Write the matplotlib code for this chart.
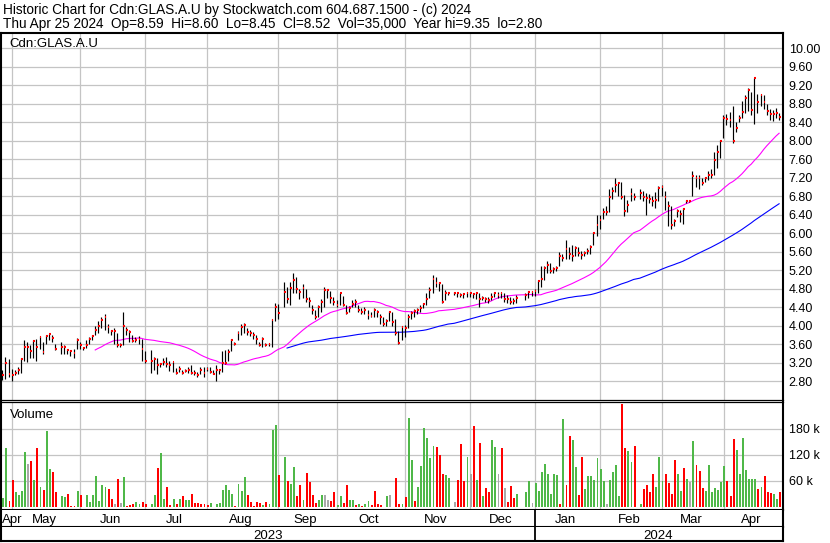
import numpy as np
import pandas as pd
import matplotlib
matplotlib.use("Agg")
import matplotlib.pyplot as plt

nan = np.nan

# one slot per trading day, Apr 26 2023 .. Apr 25 2024 (nan = no trade)
months = ["Apr", "May", "Jun", "Jul", "Aug", "Sep", "Oct", "Nov", "Dec",
          "Jan", "Feb", "Mar", "Apr"]
month_len = [3, 22, 21, 20, 23, 19, 22, 21, 21, 21, 20, 20, 19]
years = ["2023", "2024"]
year_start_month = [0, 9]

close = [
    2.93, 3.20, 2.96,
    2.93, 2.99, 3.05, 3.29, 3.55, 3.55, 3.45, 3.67, 3.55, 3.76, 3.43, 3.77, 3.82, 3.73, 3.50, nan, 3.54, 3.55, 3.47, 3.46, 3.42, 3.70,
    3.58, 3.51, 3.59, 3.71, 3.77, 3.91, 4.00, 4.13, 4.18, 3.98, 3.88, 3.88, 3.59, 3.59, 4.00, 3.92, 3.86, 3.67, 3.69, 3.72, 3.50,
    3.23, nan, 3.24, 3.29, 3.15, 3.17, 3.22, 3.18, 3.16, 3.21, 2.99, 3.07, 2.98, 3.03, 3.04, 2.99, 2.98, 2.94, 3.04, 2.98,
    3.07, 3.00, 2.96, 3.05, 3.04, 3.19, 3.20, 3.43, 3.70, 3.61, 3.85, 3.98, 4.02, 3.86, 3.85, 3.80, 3.71, 3.59, 3.72, 3.59, 3.60, 4.13, 4.41,
    4.28, nan, 4.74, 4.58, 4.82, 5.00, 4.79, 4.74, 4.81, 4.58, 4.53, 4.34, 4.20, 4.40, 4.52, 4.77, 4.77, 4.61, 4.52,
    4.46, 4.70, 4.45, 4.28, 4.38, 4.48, 4.52, 4.34, 4.30, 4.34, 4.23, 4.21, 4.35, 4.29, 4.18, 4.05, 4.10, 4.30, 4.09, 3.85, 3.63, 3.97,
    3.95, 4.20, 4.27, 4.32, 4.34, 4.39, 4.47, 4.58, 4.77, 5.02, 4.92, 4.92, 4.52, 4.70, 4.71, nan, 4.71, 4.70, 4.66, 4.68, 4.70,
    4.70, 4.68, 4.71, 4.57, 4.61, 4.57, 4.55, 4.62, 4.71, 4.66, 4.71, 4.59, 4.57, 4.52, 4.53, 4.61, nan, nan, 4.66, 4.73, 4.73,
    4.76, 4.96, 5.01, 5.24, 5.32, 5.19, 5.22, 5.25, 5.50, 5.47, 5.66, 5.55, 5.52, 5.68, 5.57, 5.53, 5.57, 5.61, 5.70, 6.00, 6.18,
    6.29, 6.46, 6.46, 6.79, 6.92, 7.05, 7.08, 6.79, 6.48, 6.61, 6.86, 6.79, nan, 6.87, 6.79, 6.77, 6.74, 6.70, 6.72, 6.97,
    7.00, 6.79, 6.60, 6.17, 6.26, 6.48, 6.41, 6.52, 6.70, 6.70, 7.23, 7.20, 7.20, 7.09, 7.20, 7.25, 7.27, 7.59, 7.75, 7.99,
    8.49, 8.47, 8.46, 7.99, 8.28, 8.49, 8.62, 8.92, 9.10, 8.66, 9.35, 8.84, 9.00, 8.84, 8.64, 8.57, 8.59, 8.60, 8.52,
]

high = [
    3.05, 3.32, 3.29,
    3.07, 3.04, 3.12, 3.30, 3.70, 3.66, 3.58, 3.70, 3.72, 3.78, 3.66, 3.80, 3.82, 3.80, 3.60, nan, 3.65, 3.58, 3.50, 3.48, 3.50, 3.73,
    3.65, 3.55, 3.70, 3.75, 3.80, 4.00, 4.10, 4.20, 4.25, 4.05, 3.92, 3.95, 3.85, 3.62, 4.30, 3.98, 3.90, 3.80, 3.76, 3.78, 3.72,
    3.45, nan, 3.48, 3.33, 3.30, 3.20, 3.31, 3.33, 3.25, 3.22, 3.08, 3.13, 3.05, 3.07, 3.10, 3.15, 3.05, 3.00, 3.12, 3.10,
    3.10, 3.12, 3.05, 3.15, 3.06, 3.45, 3.47, 3.50, 3.72, 3.66, 3.88, 4.05, 4.06, 3.95, 3.90, 3.86, 3.80, 3.65, 3.75, 3.62, 3.62, 4.15, 4.50,
    4.48, nan, 4.95, 4.85, 4.95, 5.15, 5.05, 4.80, 4.90, 4.80, 4.62, 4.45, 4.35, 4.45, 4.58, 4.85, 4.80, 4.75, 4.62,
    4.55, 4.72, 4.65, 4.45, 4.42, 4.55, 4.58, 4.45, 4.38, 4.40, 4.35, 4.30, 4.38, 4.34, 4.25, 4.20, 4.15, 4.32, 4.30, 4.15, 3.88, 4.00,
    4.02, 4.25, 4.32, 4.36, 4.38, 4.45, 4.50, 4.72, 4.85, 5.10, 5.05, 4.95, 4.90, 4.78, 4.73, nan, 4.73, 4.72, 4.72, 4.72, 4.73,
    4.73, 4.72, 4.73, 4.71, 4.65, 4.62, 4.62, 4.72, 4.74, 4.73, 4.73, 4.70, 4.66, 4.62, 4.60, 4.66, nan, nan, 4.70, 4.76, 4.76,
    4.80, 5.00, 5.30, 5.30, 5.40, 5.35, 5.28, 5.30, 5.60, 5.55, 5.85, 5.70, 5.75, 5.72, 5.70, 5.62, 5.62, 5.68, 5.75, 6.02, 6.40,
    6.40, 6.55, 6.60, 6.95, 7.00, 7.20, 7.12, 7.10, 6.82, 6.72, 6.98, 6.88, nan, 6.95, 6.92, 6.88, 6.85, 6.80, 6.90, 7.02,
    7.05, 6.92, 6.70, 6.60, 6.30, 6.52, 6.50, 6.55, 6.72, 6.72, 7.35, 7.25, 7.25, 7.20, 7.22, 7.35, 7.40, 7.75, 7.90, 8.02,
    8.55, 8.58, 8.62, 8.75, 8.40, 8.55, 8.85, 9.00, 9.15, 9.05, 9.35, 9.02, 9.02, 8.98, 8.80, 8.68, 8.66, 8.72, 8.60,
]

low = [
    2.82, 2.84, 2.90,
    2.80, 2.94, 2.95, 2.97, 3.23, 3.22, 3.30, 3.30, 3.25, 3.50, 3.40, 3.60, 3.70, 3.65, 3.48, nan, 3.40, 3.40, 3.40, 3.35, 3.30, 3.50,
    3.50, 3.48, 3.52, 3.60, 3.70, 3.80, 3.85, 3.95, 3.90, 3.85, 3.80, 3.60, 3.55, 3.55, 3.58, 3.80, 3.66, 3.64, 3.66, 3.60, 3.25,
    3.20, nan, 2.98, 3.05, 2.95, 3.10, 3.15, 3.10, 3.02, 3.00, 2.96, 3.00, 2.95, 3.00, 2.98, 2.95, 2.93, 2.90, 2.95, 2.90,
    3.02, 2.98, 2.95, 2.80, 2.95, 3.00, 3.18, 3.25, 3.45, 3.58, 3.70, 3.80, 3.85, 3.80, 3.78, 3.72, 3.60, 3.57, 3.55, 3.56, 3.56, 3.55, 4.10,
    4.15, nan, 4.40, 4.50, 4.45, 4.70, 4.70, 4.58, 4.60, 4.52, 4.40, 4.25, 4.15, 4.20, 4.30, 4.40, 4.60, 4.50, 4.45,
    4.40, 4.45, 4.42, 4.25, 4.30, 4.40, 4.40, 4.30, 4.25, 4.25, 4.15, 4.18, 4.20, 4.20, 4.05, 4.00, 4.00, 4.10, 4.00, 3.80, 3.60, 3.70,
    3.75, 3.95, 4.15, 4.20, 4.25, 4.30, 4.38, 4.45, 4.60, 4.70, 4.85, 4.75, 4.50, 4.55, 4.66, nan, 4.66, 4.62, 4.62, 4.60, 4.62,
    4.62, 4.60, 4.58, 4.40, 4.55, 4.52, 4.50, 4.55, 4.62, 4.60, 4.60, 4.52, 4.50, 4.48, 4.48, 4.50, nan, nan, 4.55, 4.60, 4.65,
    4.65, 4.70, 4.85, 5.00, 5.15, 5.15, 5.15, 5.18, 5.30, 5.40, 5.45, 5.45, 5.40, 5.50, 5.50, 5.45, 5.50, 5.55, 5.55, 5.75, 5.95,
    6.10, 6.30, 6.40, 6.45, 6.75, 6.90, 6.80, 6.75, 6.38, 6.45, 6.70, 6.72, nan, 6.75, 6.70, 6.40, 6.65, 6.60, 6.55, 6.70,
    6.80, 6.50, 6.15, 6.10, 6.15, 6.35, 6.25, 6.20, 6.65, 6.68, 6.80, 7.00, 6.95, 7.05, 7.10, 7.15, 7.20, 7.25, 7.42, 7.62,
    8.05, 8.35, 8.30, 7.95, 8.20, 8.40, 8.50, 8.60, 8.65, 8.55, 8.36, 8.60, 8.75, 8.68, 8.55, 8.45, 8.42, 8.50, 8.45,
]

# volume in thousands of shares
volume_k = [
    20, 135, 13.5,
    62, 34, 27, 36, 127, 98, 105, 62, 135, 45, 40, 175, 87, 81, 35, 0, 26, 22, 31, 2, 2, 37,
    28, 1, 27, 11, 27, 72, 13.5, 51, 47, 42, 19.5, 7.5, 64, 10, 69, 2, 4.5, 6, 12, 7.5, 12,
    8, 0, 6, 28, 90, 124, 19.5, 46, 4.5, 19.5, 8, 19.5, 25, 17, 17, 31, 10, 10, 7.5, 8,
    4.5, 10, 1, 7.5, 9, 40, 50, 40, 31, 2, 52, 36, 69, 27, 11, 2, 12, 10, 4.5, 12, 7.5, 177, 190,
    73, 0, 116, 60, 53, 92, 25, 51, 16, 79, 57, 27, 10, 15, 28, 28, 17, 13.5, 34,
    4.5, 26, 10, 51, 15, 17, 4.5, 8, 2, 8, 13, 4.5, 37, 7.5, 5, 1, 25, 28, 1, 66, 8, 6,
    24, 206, 109, 13, 45, 94, 182, 160, 112, 141, 139, 120, 76, 73, 66, 0, 11, 62, 145, 60, 116,
    76, 186, 62, 147, 26, 43, 34, 154, 139, 77, 136, 43, 12, 49, 21, 31, 0, 0, 34, 60, 10,
    55, 37, 80, 100, 75, 31, 75, 73, 6, 203, 51, 164, 154, 92, 28, 116, 42, 72, 72, 62, 112,
    88, 60, 6, 62, 80, 96, 26, 238, 136, 130, 103, 141, 0, 6, 42, 51, 34, 75, 45, 116,
    60, 77, 55, 31, 109, 76, 37, 90, 64, 58, 152, 96, 82, 43, 36, 97, 34, 43, 40, 57,
    94, 60, 26, 157, 132, 76, 158, 86, 64, 64, 64, 42, 47, 71, 34, 32, 31, 19.5, 35,
]

# g = up day, r = down day, n = unchanged, - = no trade
volume_dir = (
    "ggr"
    "rggggnrgrgrggrr-ggrrrg"
    "rrgggggggrrnrngrrrggr"
    "r-ggrggrrgrgrggrrrrr"
    "rgrggggggrgggrrrrrgrggg"
    "r-grggrrgrrrrggnnrr"
    "ggrrggrgrggrrrrrgnrrrg"
    "rggrggggggrrrgg-nrrrg"
    "nrgrgrrggnrnrrrg--ggn"
    "ggggggggrgrrggrrggggg"
    "ggnggggrrggr-grrrrgg"
    "grrrrggrgngrrrgggggg"
    "grrrgggggggrgrrrggr"
)

price_ticks = [2.80, 3.20, 3.60, 4.00, 4.40, 4.80, 5.20, 5.60, 6.00, 6.40,
               6.80, 7.20, 7.60, 8.00, 8.40, 8.80, 9.20, 9.60, 10.00]
volume_ticks = [60000, 120000, 180000]

plt.rcParams['font.family'] = ['Liberation Sans', 'DejaVu Sans']

close = np.array(close)
high = np.array(high)
low = np.array(low)
volume = np.array(volume_k) * 1000
x = np.arange(len(close))
traded = ~np.isnan(close)
starts = np.concatenate([[0], np.cumsum(month_len)])

closes = pd.Series(close[traded], index=x[traded])
ma_short = closes.rolling(30).mean()
ma_long = closes.rolling(90).mean()

W, H = 830, 543
fig = plt.figure(figsize=(W / 100, H / 100), dpi=100)


def add_px_axes(x0, y0, x1, y1):
    return fig.add_axes([x0 / W, 1 - y1 / H, (x1 - x0) / W, (y1 - y0) / H])


grid = '#c4c4c4'
fs = 9.5
fs_tick = 9.0
xlim = (-0.45, 252.1)

# price panel
ax_p = add_px_axes(1, 33, 782.5, 400)
ax_p.set_xlim(xlim)
ax_p.set_ylim(2.396, 10.331)
for v in price_ticks:
    ax_p.axhline(v, color=grid, lw=0.9, zorder=0)
for s in starts[1:-1]:
    ax_p.axvline(s + 0.1, color=grid, lw=0.9, zorder=0)
ax_p.vlines(x[traded], low[traded], high[traded], color='black', lw=0.85, zorder=3)
ax_p.hlines(close[traded], x[traded], x[traded] + 0.6, color='red', lw=1.5, zorder=4)
ax_p.plot(ma_short.index, ma_short.values, color='#ff00ff', lw=0.8, zorder=2)
ax_p.plot(ma_long.index, ma_long.values, color='#0000ff', lw=0.8, zorder=2)
ax_p.set_yticks(price_ticks)
ax_p.set_yticklabels([f"{v:.2f}" for v in price_ticks])
ax_p.set_xticks([])
ax_p.tick_params(axis='y', left=False, labelleft=False, right=False,
                 labelright=True, pad=1, labelsize=fs_tick)
ax_p.text(8.5 / 781.5, 1 - 13.7 / 367, "Cdn:GLAS.A.U", transform=ax_p.transAxes,
          fontsize=fs, va='baseline')

# volume panel
ax_v = add_px_axes(1, 402, 782.5, 510)
ax_v.set_xlim(xlim)
ax_v.set_ylim(-6900, 242000)
for v in volume_ticks:
    ax_v.axhline(v, color=grid, lw=0.9, zorder=0)
for s in starts[1:-1]:
    ax_v.axvline(s + 0.1, color=grid, lw=0.9, zorder=0)
palette = {'g': '#4fb848', 'r': '#ff0000', 'n': '#a8a8a8', '-': 'white'}
ax_v.bar(x, volume, width=0.62, align='edge',
         color=[palette[c] for c in volume_dir], lw=0, zorder=2)
ax_v.set_yticks(volume_ticks)
ax_v.set_yticklabels([f"{v // 1000} k" for v in volume_ticks])
ax_v.set_xticks([])
ax_v.tick_params(axis='y', left=False, labelleft=False, right=False,
                 labelright=True, pad=1, labelsize=fs_tick)
ax_v.text(8.5 / 781.5, 1 - 16 / 108, "Volume", transform=ax_v.transAxes,
          fontsize=fs, va='baseline')

# month and year rows
ax_m = add_px_axes(1, 510, 782.5, 527)
ax_y = add_px_axes(1, 527, 782.5, 541)
for ax in (ax_m, ax_y):
    ax.set_xlim(xlim)
    ax.set_ylim(0, 1)
    ax.set_xticks([])
    ax.set_yticks([])
    ax.axvline(starts[year_start_month[1]] + 0.1, color='black', lw=1.3)
for i, m in enumerate(months):
    if i == 0:
        # partial first month: keep the label inside the frame
        ax_m.text(xlim[0] + 0.3, 0.22, m, ha='left', va='baseline', fontsize=fs)
    else:
        ax_m.text((starts[i] + starts[i + 1]) / 2 - 0.5, 0.22, m, ha='center',
                  va='baseline', fontsize=fs)
year_edges = [starts[year_start_month[0]], starts[year_start_month[1]], starts[-1]]
for i, yname in enumerate(years):
    ax_y.text((year_edges[i] + year_edges[i + 1]) / 2, 0.12, yname, ha='center',
              va='baseline', fontsize=fs)

for ax in (ax_p, ax_v, ax_m, ax_y):
    for side in ('left', 'right', 'top', 'bottom'):
        ax.spines[side].set_color('black')
        ax.spines[side].set_linewidth(1.5)
ax_p.spines['bottom'].set_linewidth(0.9)
ax_v.spines['top'].set_linewidth(0.9)
ax_m.spines['top'].set_visible(False)
ax_y.spines['top'].set_visible(False)

fig.text(3 / W, 1 - 14 / H,
         "Historic Chart for Cdn:GLAS.A.U by Stockwatch.com 604.687.1500 - (c) 2024",
         fontsize=9.8, va='baseline')
fig.text(3 / W, 1 - 28 / H,
         "Thu Apr 25 2024  Op=8.59  Hi=8.60  Lo=8.45  Cl=8.52  Vol=35,000  "
         "Year hi=9.35  lo=2.80",
         fontsize=9.8, va='baseline')

fig.savefig("out.png", dpi=100, facecolor='white')
